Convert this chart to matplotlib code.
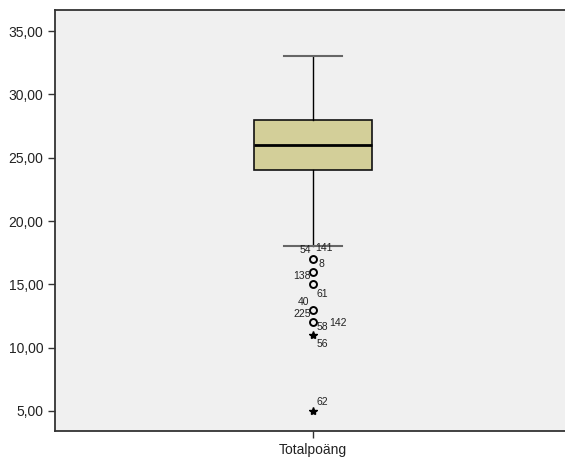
import matplotlib
matplotlib.use("Agg")
import matplotlib.pyplot as plt
from matplotlib import font_manager
from matplotlib.ticker import FuncFormatter

reg = [f for f in font_manager.findSystemFonts() if f.endswith('LiberationSans-Regular.ttf')]
if reg:
    font_manager.fontManager.addfont(reg[0])
    fam = font_manager.FontProperties(fname=reg[0]).get_name()
else:
    fam = 'DejaVu Sans'
plt.rcParams['font.family'] = [fam, 'DejaVu Sans']

category = "Totalpoäng"
whisker_low, q1, median, q3, whisker_high = 18, 24, 26, 28, 33
outlier_values = [17, 16, 15, 13, 12]
extreme_values = [11, 5]
# case labels: (value, label)
case_labels = [(17, "54"), (17, "141"), (17, "8"), (16, "138"), (15, "61"),
               (13, "40"), (13, "225"), (12, "58"), (12, "142"), (11, "56"), (5, "62")]
label_offsets = [(-8, 9), (11, 11), (8, -5), (-11, -4), (9, -10),
                 (-9, 8), (-11, -4), (9, -5), (25, -1), (9, -9), (9, 9)]
y_ticks = [5, 10, 15, 20, 25, 30, 35]

fig = plt.figure(figsize=(5.65, 4.61), dpi=100)
ax = fig.add_axes([55/565, 1-431/461, 516/565, (431-9.5)/461])
ax.set_facecolor('#f0f0f0')

stats = [dict(med=median, q1=q1, q3=q3, whislo=whisker_low, whishi=whisker_high,
              fliers=[], label=category)]
ax.bxp(stats, positions=[1], widths=0.227, patch_artist=True, showfliers=False,
       boxprops=dict(facecolor='#d3cf99', edgecolor='#111111', linewidth=1.2),
       medianprops=dict(color='#000000', linewidth=2),
       whiskerprops=dict(color='#000000', linewidth=1),
       capprops=dict(color='#666666', linewidth=1.5), capwidths=0.113)

ax.plot([1]*len(outlier_values), outlier_values, linestyle='none', marker='o',
        markersize=5, markerfacecolor='none', markeredgecolor='black', markeredgewidth=1.4)
ax.plot([1]*len(extreme_values), extreme_values, linestyle='none', marker='*',
        markersize=6, color='black')

for (v, lab), (dx, dy) in zip(case_labels, label_offsets):
    ax.annotate(lab, (1, v), xytext=(dx, dy), textcoords='offset pixels',
                ha='center', va='center', fontsize=7.5, color='#222222')

ax.set_xlim(0.5, 1.5)
ax.set_ylim(3.42, 36.7)
ax.set_yticks(y_ticks)
ax.yaxis.set_major_formatter(FuncFormatter(lambda v, p: f"{v:.2f}".replace('.', ',')))
ax.set_xticks([1])
ax.set_xticklabels([category])
ax.tick_params(axis='both', direction='out', length=5, width=1, colors='#333333',
               labelsize=10, labelcolor='#222222')
ax.spines['right'].set_visible(False)
for s in ['left', 'top', 'bottom']:
    ax.spines[s].set_color('#333333')
    ax.spines[s].set_linewidth(1.3)

fig.savefig('out.png', dpi=100)
